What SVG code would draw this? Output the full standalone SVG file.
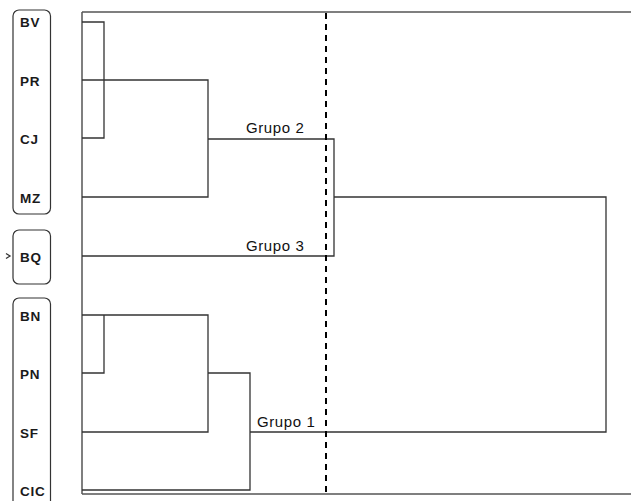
<svg xmlns="http://www.w3.org/2000/svg" width="631" height="501" viewBox="0 0 631 501">
<style>
.frame{stroke:#555;stroke-width:1.5;fill:none}
.ln{stroke:#333;stroke-width:1.3;fill:none}
.box{fill:#fff;stroke:#333;stroke-width:1.2}
.lbl{font-family:"Liberation Sans",Arial,sans-serif;font-weight:bold;font-size:13.5px;letter-spacing:0.8px;fill:#1a1a1a}
.grp{font-family:"Liberation Sans",Arial,sans-serif;font-size:15px;letter-spacing:0.6px;fill:#111}
.cut{stroke:#000;stroke-width:2;stroke-dasharray:6 5;fill:none}
</style>
<rect width="631" height="501" fill="#fff"/>
<g id="frame">
<path class="frame" d="M82,12 H631 M82,12 V494 M82,494 H631"/>
</g>
<g id="box-grupo2">
<rect class="box" x="13" y="10" width="37.5" height="204" rx="6"/>
<text class="lbl" x="20" y="27">BV</text>
<text class="lbl" x="20" y="86">PR</text>
<text class="lbl" x="20" y="144">CJ</text>
<text class="lbl" x="20" y="203">MZ</text>
</g>
<g id="box-grupo3">
<rect class="box" x="13" y="230" width="37.5" height="54" rx="6"/>
<text class="lbl" x="20" y="262">BQ</text>
<polyline class="ln" points="6,253.5 10,256 6,258.5" stroke-width="1"/>
</g>
<g id="box-grupo1">
<rect class="box" x="13" y="298" width="37.5" height="220" rx="6"/>
<text class="lbl" x="20" y="321">BN</text>
<text class="lbl" x="20" y="379">PN</text>
<text class="lbl" x="20" y="438">SF</text>
<text class="lbl" x="20" y="496">CIC</text>
</g>
<g id="connectors">
<path class="ln" d="M82,22 H104 V138 H82 M82,80 H208 V197 H82 M208,139 H334 V256 H82 M334,197 H606 V432 H250"/>
<path class="ln" d="M82,315 H208 V432 H82 M82,373 H104 V315 M208,373 H250 V490 H82"/>
</g>
<g id="cut-line">
<line class="cut" x1="326" y1="13" x2="326" y2="494"/>
</g>
<g id="group-labels">
<text class="grp" x="246" y="133">Grupo 2</text>
<text class="grp" x="246" y="251">Grupo 3</text>
<text class="grp" x="257" y="427">Grupo 1</text>
</g>
</svg>
